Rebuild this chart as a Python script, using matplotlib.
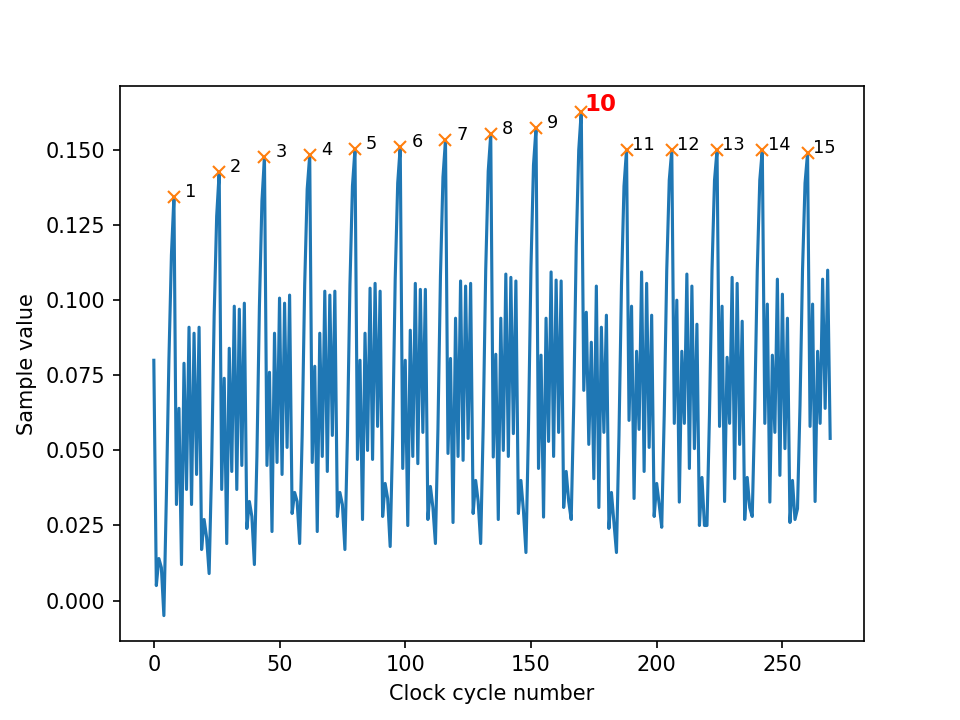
import numpy as np
import matplotlib
matplotlib.use("Agg")
import matplotlib.pyplot as plt

# Sample trace, split at each peak
lead_in = [0.080, 0.005, 0.014, 0.011, -0.005, 0.035, 0.080, 0.115, 0.1344]
cycle_01 = [0.032, 0.064, 0.012, 0.079, 0.037, 0.091, 0.032, 0.089, 0.042, 0.091,
            0.017, 0.027, 0.021, 0.009, 0.045, 0.095, 0.128, 0.1426]
cycle_02 = [0.037, 0.074, 0.019, 0.084, 0.043, 0.098, 0.037, 0.097, 0.045, 0.099,
            0.024, 0.033, 0.028, 0.012, 0.048, 0.098, 0.133, 0.1476]
cycle_03 = [0.045, 0.076, 0.023, 0.089, 0.046, 0.1007, 0.042, 0.099, 0.051, 0.1017,
            0.029, 0.036, 0.033, 0.019, 0.055, 0.105, 0.137, 0.1482]
cycle_04 = [0.046, 0.078, 0.023, 0.089, 0.048, 0.103, 0.043, 0.1017, 0.055, 0.103,
            0.028, 0.036, 0.032, 0.017, 0.055, 0.105, 0.138, 0.1502]
cycle_05 = [0.047, 0.080, 0.027, 0.089, 0.050, 0.104, 0.047, 0.1056, 0.058, 0.103,
            0.028, 0.039, 0.034, 0.018, 0.055, 0.107, 0.139, 0.1511]
cycle_06 = [0.044, 0.080, 0.025, 0.090, 0.048, 0.1056, 0.0456, 0.1036, 0.056, 0.1036,
            0.027, 0.038, 0.031, 0.019, 0.057, 0.108, 0.141, 0.1533]
cycle_07 = [0.049, 0.0806, 0.026, 0.094, 0.048, 0.1064, 0.0467, 0.1047, 0.054, 0.1056,
            0.029, 0.040, 0.033, 0.019, 0.058, 0.110, 0.143, 0.1552]
cycle_08 = [0.0478, 0.082, 0.027, 0.094, 0.050, 0.1087, 0.048, 0.1076, 0.0556, 0.1064,
            0.029, 0.040, 0.030, 0.016, 0.057, 0.111, 0.145, 0.1572]
cycle_09 = [0.044, 0.0817, 0.0278, 0.094, 0.053, 0.1094, 0.048, 0.1067, 0.056, 0.1064,
            0.031, 0.043, 0.033, 0.027, 0.065, 0.118, 0.150, 0.1628]
cycle_10 = [0.070, 0.096, 0.052, 0.086, 0.0406, 0.1047, 0.031, 0.091, 0.056, 0.095,
            0.024, 0.036, 0.026, 0.016, 0.055, 0.105, 0.138, 0.150]
cycle_11 = [0.060, 0.098, 0.034, 0.083, 0.057, 0.1094, 0.043, 0.1056, 0.051, 0.095,
            0.028, 0.039, 0.032, 0.0244, 0.062, 0.110, 0.140, 0.150]
cycle_12 = [0.059, 0.100, 0.0328, 0.083, 0.059, 0.1087, 0.044, 0.1047, 0.0506, 0.092,
            0.025, 0.041, 0.025, 0.025, 0.062, 0.110, 0.140, 0.150]
cycle_13 = [0.058, 0.098, 0.033, 0.081, 0.059, 0.1076, 0.0406, 0.1056, 0.052, 0.093,
            0.027, 0.041, 0.031, 0.028, 0.064, 0.110, 0.140, 0.150]
cycle_14 = [0.059, 0.0987, 0.0328, 0.0817, 0.056, 0.107, 0.0417, 0.102, 0.0506, 0.094,
            0.026, 0.040, 0.027, 0.0306, 0.065, 0.110, 0.139, 0.1489]
tail = [0.058, 0.0987, 0.033, 0.083, 0.059, 0.107, 0.064, 0.110, 0.054]

peak_idx = [8, 26, 44, 62, 80, 98, 116, 134, 152, 170, 188, 206, 224, 242, 260]
peak_labels = [str(i + 1) for i in range(len(peak_idx))]
highlight = 9  # the tenth peak is drawn in red

samples = np.array(lead_in + cycle_01 + cycle_02 + cycle_03 + cycle_04 + cycle_05
                   + cycle_06 + cycle_07 + cycle_08 + cycle_09 + cycle_10 + cycle_11
                   + cycle_12 + cycle_13 + cycle_14 + tail)

fig, ax = plt.subplots(figsize=(6.4, 4.8), dpi=150)
ax.plot(samples)
ax.plot(peak_idx, samples[peak_idx], "x")

for ii, (px, lab) in enumerate(zip(peak_idx, peak_labels)):
    if ii == highlight:
        ax.annotate(lab, (px, samples[px]), xytext=(9, 3.5), textcoords="offset points",
                    ha="center", va="center", color="red", fontweight="bold",
                    fontsize=11)
    else:
        ax.annotate(lab, (px, samples[px]), xytext=(8, 2.5), textcoords="offset points",
                    ha="center", va="center", fontsize=8.5)

ax.set_xlabel("Clock cycle number")
ax.set_ylabel("Sample value")

fig.savefig("out.png", dpi=150)
